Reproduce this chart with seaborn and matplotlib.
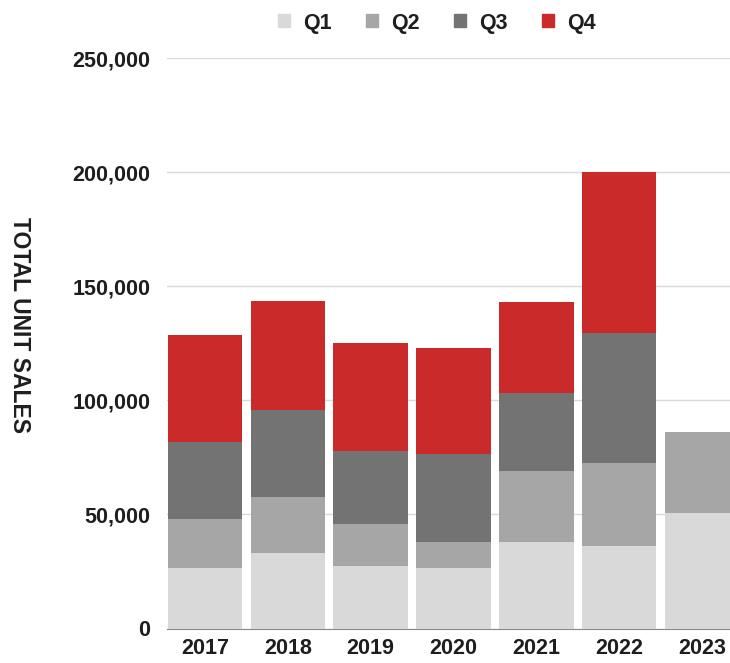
import numpy as np
import pandas as pd
import matplotlib
matplotlib.use("Agg")
import matplotlib.pyplot as plt
import seaborn as sns
from matplotlib.ticker import FuncFormatter

years = ["2017", "2018", "2019", "2020", "2021", "2022", "2023"]
q1 = [26300, 32900, 27600, 26500, 38000, 36100, 50400]
q2 = [21500, 24900, 18400, 11600, 30900, 36400, 35700]
q3 = [34100, 38100, 32000, 38200, 34200, 57200, 0]
q4 = [46800, 47500, 46900, 46700, 39900, 70400, 0]
quarters = ["Q1", "Q2", "Q3", "Q4"]
colors = ["#d9d9d9", "#a6a6a6", "#737373", "#cb2a2a"]

df = pd.DataFrame({"year": years, "Q1": q1, "Q2": q2, "Q3": q3, "Q4": q4})
# cumulative totals, drawn from the tallest down so they look stacked
cum = df[quarters].cumsum(axis=1)

sns.set_style("white")
plt.rcParams["font.family"] = ["Liberation Sans", "DejaVu Sans"]
txt = "#1e1e1e"

fig = plt.figure(figsize=(7.3, 6.63), dpi=100)
ax = fig.add_axes([167 / 730, 1 - 628.5 / 663, 1 - 167 / 730, (628.5 - 58) / 663])

for q, c in reversed(list(zip(quarters, colors))):
    sns.barplot(x=df["year"], y=cum[q], color=c, width=0.9, saturation=1,
                ax=ax, zorder=3, linewidth=0)

ax.set_xlim(-0.46, 6.34)
ax.set_ylim(0, 250000)
ax.set_yticks(np.arange(0, 250001, 50000))
ax.yaxis.set_major_formatter(FuncFormatter(lambda v, p: f"{int(v):,}"))
ax.grid(axis="y", color="#d9d9d9", lw=1, zorder=0)
ax.grid(axis="x", visible=False)
for s in ["top", "right", "left"]:
    ax.spines[s].set_visible(False)
ax.spines["bottom"].set_color("#888888")
ax.spines["bottom"].set_zorder(1)
ax.tick_params(length=0, labelsize=15.5, labelcolor=txt)
ax.tick_params(axis="x", pad=7)
ax.tick_params(axis="y", pad=12)
for lab in ax.get_xticklabels() + ax.get_yticklabels():
    lab.set_fontweight("bold")
ax.set_xlabel("")
ax.set_ylabel("")

fig.text(19 / 730, 1 - 325 / 663, "TOTAL UNIT SALES", rotation=-90, ha="center",
         va="center", fontsize=16.5, fontweight="bold", color=txt)

handles = [plt.Rectangle((0, 0), 1, 1, color=c) for c in colors]
leg = fig.legend(handles, quarters, loc="center", bbox_to_anchor=(437 / 730, 1 - 23 / 663),
                 ncol=4, frameon=False, handlelength=0.56, handleheight=0.56,
                 handletextpad=0.6, columnspacing=1.6,
                 prop={"weight": "bold", "size": 15.5})
for t in leg.get_texts():
    t.set_color(txt)

fig.savefig("out.png", dpi=100)
